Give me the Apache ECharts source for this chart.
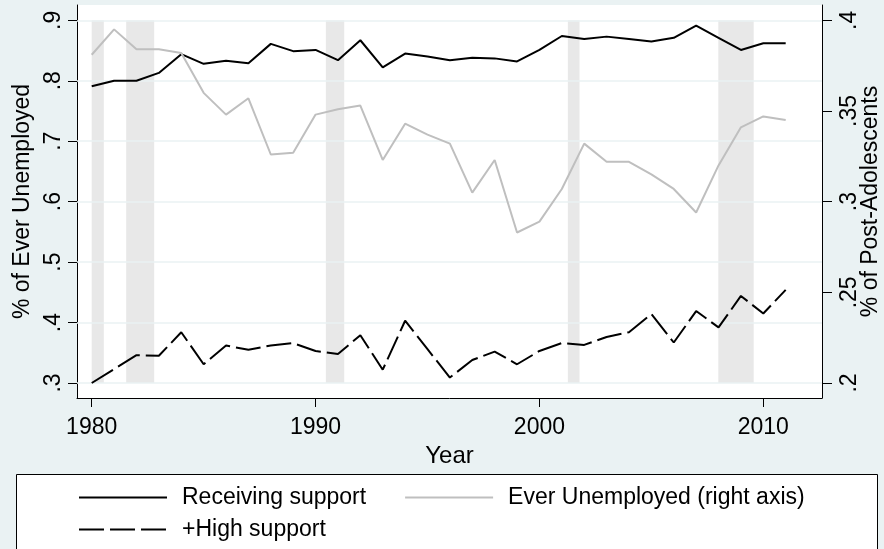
<!DOCTYPE html>
<html>
<head>
<meta charset="utf-8">
<script src="https://cdn.jsdelivr.net/npm/echarts@6/dist/echarts.min.js"></script>
<style>
html,body{margin:0;padding:0;background:#eaf2f3;}
#chart{width:884px;height:549px;}
</style>
</head>
<body>
<div id="chart"></div>
<script>
const years = [1980,1981,1982,1983,1984,1985,1986,1987,1988,1989,
               1990,1991,1992,1993,1994,1995,1996,1997,1998,1999,
               2000,2001,2002,2003,2004,2005,2006,2007,2008,2009,
               2010,2011];
const receivingSupport = [.791,.800,.800,.813,.844,.828,.833,.829,.861,.849,
                          .851,.834,.867,.822,.845,.840,.834,.838,.837,.832,
                          .851,.874,.869,.873,.869,.865,.871,.891,.871,.851,
                          .862,.862];
const everUnemployed = [.381,.395,.384,.384,.382,.360,.348,.357,.326,.327,
                        .348,.351,.353,.323,.343,.337,.332,.305,.323,.283,
                        .289,.307,.332,.322,.322,.315,.307,.294,.320,.341,
                        .347,.345];
const highSupport = [.300,.323,.346,.345,.384,.331,.362,.355,.362,.366,
                     .353,.348,.379,.322,.403,.356,.309,.338,.352,.331,
                     .353,.366,.363,.376,.384,.414,.367,.419,.392,.444,
                     .415,.454];
const recessions = [[1980.0,1980.54],[1981.54,1982.79],[1990.46,1991.28],[2001.27,2001.79],[2007.99,2009.57]];
const xTicks = [1980,1990,2000,2010];
const leftTicks = [.3,.4,.5,.6,.7,.8,.9];
const rightTicks = [.2,.25,.3,.35,.4];

const FONT = 'Liberation Sans';
const fmt = v => String(v).replace(/^0\./, '.');
const pairs = arr => years.map((y, i) => [y, arr[i]]);

const chart = echarts.init(document.getElementById('chart'), null, {renderer: 'canvas'});
const legendCommon = {
  orient: 'horizontal', itemWidth: 88, itemHeight: 12, padding: 0,
  itemStyle: {opacity: 0, borderWidth: 0},
  textStyle: {fontFamily: FONT, fontSize: 23, color: '#000', padding: [0, 0, 0, 10]},
  selectedMode: false, z: 10
};
const option = {
  backgroundColor: '#eaf2f3',
  animation: false,
  textStyle: {fontFamily: FONT, color: '#000'},
  grid: {left: 77, right: 62, top: 5, bottom: 151, show: true, backgroundColor: '#ffffff', borderWidth: 0,
         containLabel: false, outerBoundsMode: 'none'},
  xAxis: {
    type: 'value', min: 1979.343, max: 2012.622,
    name: 'Year', nameLocation: 'middle', nameGap: 46,
    nameTextStyle: {fontFamily: FONT, fontSize: 24, color: '#000'},
    axisLine: {show: true, lineStyle: {color: '#000', width: 1}},
    axisTick: {show: true, length: 9, lineStyle: {color: '#000'}, customValues: xTicks},
    axisLabel: {show: true, fontFamily: FONT, fontSize: 23, color: '#000', margin: 18, customValues: xTicks, formatter: v => String(v)},
    splitLine: {show: false}
  },
  yAxis: [{
    type: 'value', position: 'left', min: 0.27519, max: 0.92531,
    name: '% of Ever Unemployed', nameLocation: 'middle', nameRotate: 90, nameGap: 37,
    nameTextStyle: {fontFamily: FONT, fontSize: 23, color: '#000'},
    axisLine: {show: true, lineStyle: {color: '#000', width: 1}},
    axisTick: {show: true, length: 9, lineStyle: {color: '#000'}, customValues: leftTicks},
    axisLabel: {show: true, rotate: 90, fontFamily: FONT, fontSize: 23, color: '#000', margin: 12, customValues: leftTicks, formatter: fmt},
    splitLine: {show: false}
  }, {
    type: 'value', position: 'right', min: 0.19173, max: 0.40844,
    name: '% of Post-Adolescents', nameLocation: 'middle', nameRotate: 90, nameGap: 37,
    nameMoveOverlap: false,
    nameTextStyle: {fontFamily: FONT, fontSize: 23, color: '#000'},
    axisLine: {show: true, lineStyle: {color: '#000', width: 1}},
    axisTick: {show: true, length: 10, lineStyle: {color: '#000'}, customValues: rightTicks},
    axisLabel: {show: true, rotate: 90, fontFamily: FONT, fontSize: 23, color: '#000', margin: 16, customValues: rightTicks, formatter: fmt},
    splitLine: {show: false}
  }],
  legend: [Object.assign({
    data: ['Receiving support', 'Ever Unemployed (right axis)'],
    left: 78, top: 486, itemGap: 38
  }, legendCommon), Object.assign({
    data: ['+High support'],
    left: 78, top: 518
  }, legendCommon)],
  graphic: [{
    type: 'rect', left: 16, top: 474, z: 1,
    shape: {x: 0, y: 0, width: 861, height: 100},
    style: {fill: '#ffffff', stroke: '#000000', lineWidth: 1}
  }],
  series: [{
    name: 'gridlines', type: 'line', data: [], silent: true, z: 1,
    markLine: {silent: true, symbol: 'none', label: {show: false}, animation: false,
      lineStyle: {color: '#eaf2f3', width: 1.5, type: 'solid'},
      data: leftTicks.map(v => ({yAxis: v}))}
  }, {
    name: 'recessions', type: 'line', data: [], silent: true, z: 2,
    markArea: {silent: true, itemStyle: {color: '#e8e8e8'}, label: {show: false},
      data: recessions.map(r => [{xAxis: r[0], yAxis: leftTicks[0]}, {xAxis: r[1], yAxis: leftTicks[leftTicks.length - 1]}])}
  }, {
    name: 'Receiving support', type: 'line', yAxisIndex: 0, z: 5,
    data: pairs(receivingSupport), symbol: 'none', showSymbol: false,
    lineStyle: {color: '#000000', width: 2}, itemStyle: {color: '#000000'}
  }, {
    name: 'Ever Unemployed (right axis)', type: 'line', yAxisIndex: 1, z: 5,
    data: pairs(everUnemployed), symbol: 'none', showSymbol: false,
    lineStyle: {color: '#bfbfbf', width: 2}, itemStyle: {color: '#bfbfbf'}
  }, {
    name: '+High support', type: 'line', yAxisIndex: 0, z: 5,
    data: pairs(highSupport), symbol: 'none', showSymbol: false,
    lineStyle: {color: '#000000', width: 2, type: [25, 6]}, itemStyle: {color: '#000000'}
  }]
};
chart.setOption(option);
</script>
</body>
</html>
